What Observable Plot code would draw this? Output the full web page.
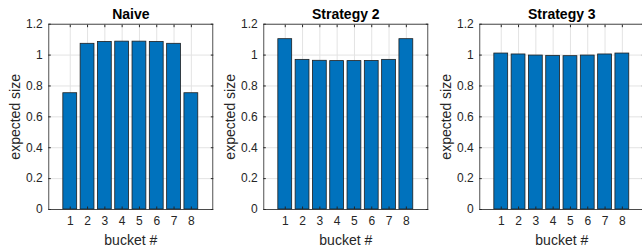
<!DOCTYPE html>
<html>
<head>
<meta charset="utf-8">
<script src="https://cdn.jsdelivr.net/npm/d3@7"></script>
<script src="https://cdn.jsdelivr.net/npm/@observablehq/plot@0.6"></script>
<style>
  html, body { margin: 0; padding: 0; background: #fff; overflow: hidden; }
  #wrap { position: relative; width: 642px; height: 248px; overflow: hidden; }
  .panel { position: absolute; top: 0; width: 214px; height: 248px; }
  .panel svg { max-width: none !important; display: block; }
</style>
</head>
<body>
<div id="wrap"></div>
<script>
// ---- data ----
const buckets = [1, 2, 3, 4, 5, 6, 7, 8];
const naive = [0.753, 1.073, 1.085, 1.087, 1.087, 1.085, 1.073, 0.753];
const strategy2 = [1.103, 0.969, 0.963, 0.961, 0.961, 0.962, 0.969, 1.103];
const strategy3 = [1.010, 1.004, 0.997, 0.995, 0.993, 0.997, 1.004, 1.010];
const titles = ["Naive", "Strategy 2", "Strategy 3"];
const yTicks = [0, 0.2, 0.4, 0.6, 0.8, 1, 1.2];
const xLabel = "bucket #";
const yLabel = "expected size";

const series = [naive, strategy2, strategy3];
const offsets = [0, 215, 431];
const textColor = "#262626";
const font = "'Liberation Sans', Arial, Helvetica, sans-serif";

const wrap = document.getElementById("wrap");

series.forEach((vals, i) => {
  const data = buckets.map((b, j) => ({bucket: b, value: vals[j]}));
  const chart = Plot.plot({
    width: 214,
    height: 248,
    marginLeft: 48.3,
    marginRight: 1.7,
    marginTop: 23.7,
    marginBottom: 39,
    style: {fontFamily: font, color: textColor, background: "transparent", overflow: "visible", maxWidth: "none"},
    x: {domain: [-0.24, 9.24], ticks: buckets, label: null},
    y: {domain: [0, 1.2], ticks: yTicks, label: null},
    marks: [
      Plot.gridX(buckets, {stroke: "#e3e3e3", strokeOpacity: 1, strokeWidth: 1}),
      Plot.gridY(yTicks, {stroke: "#e3e3e3", strokeOpacity: 1, strokeWidth: 1}),
      Plot.rectY(data, {
        x1: d => d.bucket - 0.4,
        x2: d => d.bucket + 0.4,
        y1: 0,
        y2: "value",
        fill: "#0072BD",
        stroke: "#1f1f1f",
        strokeWidth: 0.8
      }),
      Plot.frame({stroke: textColor, strokeWidth: 0.8}),
      // inward tick marks on all four sides
      Plot.axisY(yTicks, {anchor: "left", tickSize: -2.5, text: null, label: null, stroke: textColor}),
      Plot.axisY(yTicks, {anchor: "right", tickSize: -2.5, text: null, label: null, stroke: textColor}),
      Plot.axisX(buckets, {anchor: "bottom", tickSize: -2.5, text: null, label: null, stroke: textColor}),
      Plot.axisX(buckets, {anchor: "top", tickSize: -2.5, text: null, label: null, stroke: textColor}),
      // tick labels
      Plot.axisY(yTicks, {anchor: "left", tickSize: 0, tickPadding: 6, tickFormat: d => String(d), label: null, fontSize: 12, fill: textColor}),
      Plot.axisX(buckets, {anchor: "bottom", tickSize: 0, tickPadding: 7, tickFormat: d => String(d), label: null, fontSize: 12, fill: textColor}),
      // labels and title
      Plot.text([yLabel], {frameAnchor: "left", rotate: -90, dx: -33, textAnchor: "middle", lineAnchor: "middle", fontSize: 14, fill: textColor}),
      Plot.text([xLabel], {frameAnchor: "bottom", dy: 31, textAnchor: "middle", lineAnchor: "middle", fontSize: 14, fill: textColor}),
      Plot.text([titles[i]], {frameAnchor: "top", dy: -10, textAnchor: "middle", lineAnchor: "middle", fontSize: 14, fontWeight: "bold", fill: "#000"})
    ]
  });
  const div = document.createElement("div");
  div.className = "panel";
  div.style.left = offsets[i] + "px";
  div.appendChild(chart);
  wrap.appendChild(div);
});
</script>
</body>
</html>
